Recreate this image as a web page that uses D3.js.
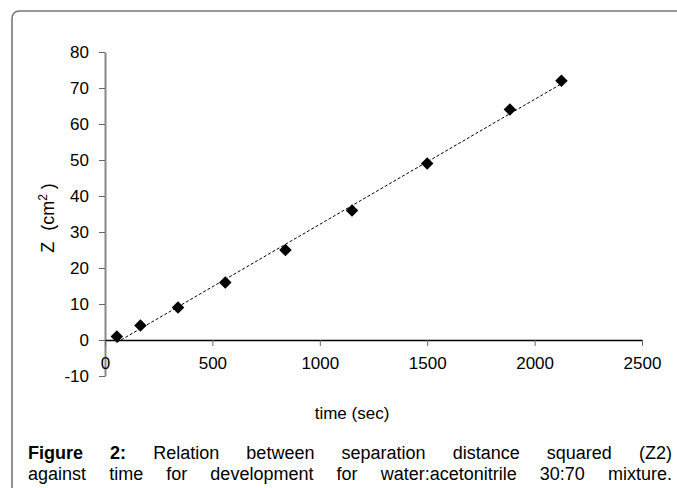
<!DOCTYPE html>
<html><head><meta charset="utf-8">
<script src="https://cdn.jsdelivr.net/npm/d3@7"></script>
<style>
html,body{margin:0;padding:0;background:#fff;}
svg{display:block;font-family:"Liberation Sans",Arial,sans-serif;}
</style></head>
<body>
<svg id="chart" width="677" height="488"></svg>
<script>
// Data
const timeSec = [55, 165, 340, 560, 840, 1150, 1500, 1885, 2125];
const zSquared = [1, 4, 9, 16, 25, 36, 49, 64, 72];
const xTicks = [0, 500, 1000, 1500, 2000, 2500];
const yTicks = [-10, 0, 10, 20, 30, 40, 50, 60, 70, 80];
const captionLine1 = [["Figure", true], ["2:", true], ["Relation", false], ["between", false], ["separation", false], ["distance", false], ["squared", false], ["(Z2)", false]];
const captionLine2 = [["against", false], ["time", false], ["for", false], ["development", false], ["for", false], ["water:acetonitrile", false], ["30:70", false], ["mixture.", false]];

const svg = d3.select("#chart");

// frame
svg.append("path")
  .attr("d", "M12,488 L12,19 Q12,11 20,11 L677,11")
  .attr("fill", "none").attr("stroke", "#777").attr("stroke-width", 1.6);

const x = d3.scaleLinear().domain([0, 2500]).range([105, 642]);
const y = d3.scaleLinear().domain([-10, 80]).range([376, 52]);
const fmt = d => String(d);

// y axis
const gy = svg.append("g").attr("transform", "translate(105,0)")
  .call(d3.axisLeft(y).tickValues(yTicks).tickSize(6).tickSizeOuter(0).tickPadding(10).tickFormat(fmt));
gy.select(".domain").attr("stroke", "#888").attr("stroke-width", 2);
gy.selectAll(".tick line").attr("stroke", "#666").attr("stroke-width", 1);
gy.selectAll(".tick text").attr("font-size", 17).attr("fill", "#000").attr("font-family", "Liberation Sans, Arial, sans-serif");

// x axis at y=0
const gx = svg.append("g").attr("transform", `translate(0,${y(0)})`)
  .call(d3.axisBottom(x).tickValues(xTicks).tickSize(6).tickSizeOuter(0).tickFormat(fmt));
gx.select(".domain").attr("stroke", "#000").attr("stroke-width", 1.5);
gx.selectAll(".tick line").attr("stroke", "#666").attr("stroke-width", 1);
gx.selectAll(".tick text").attr("font-size", 17).attr("fill", "#000").attr("y", 29).attr("dy", 0)
  .attr("font-family", "Liberation Sans, Arial, sans-serif");

// trendline (least squares)
const n = timeSec.length;
const mx = d3.mean(timeSec), my = d3.mean(zSquared);
let sxy = 0, sxx = 0;
for (let i = 0; i < n; i++) { sxy += (timeSec[i] - mx) * (zSquared[i] - my); sxx += (timeSec[i] - mx) ** 2; }
const slope = sxy / sxx, intercept = my - slope * mx;
const tMin = d3.min(timeSec), tMax = d3.max(timeSec);
svg.append("line")
  .attr("x1", x(tMin)).attr("y1", y(intercept + slope * tMin))
  .attr("x2", x(tMax)).attr("y2", y(intercept + slope * tMax))
  .attr("stroke", "#000").attr("stroke-width", 1).attr("stroke-dasharray", "3,2");

// markers
const diamond = d3.symbol().type(d3.symbolDiamond2).size(100);
svg.append("g").selectAll("path").data(timeSec).join("path")
  .attr("d", diamond)
  .attr("transform", (d, i) => `translate(${x(d)},${y(zSquared[i])})`)
  .attr("fill", "#000");

// axis titles
svg.append("text").attr("x", 352).attr("y", 419).attr("text-anchor", "middle")
  .attr("font-size", 17).text("time (sec)");
const yl = svg.append("text").attr("transform", "translate(54,218) rotate(-90)")
  .attr("text-anchor", "middle").attr("font-size", 18);
yl.append("tspan").text("Z");
yl.append("tspan").attr("dx", 11).text("(cm");
yl.append("tspan").attr("font-size", 12).attr("dy", -7).text("2");
yl.append("tspan").attr("dy", 7).attr("dx", 5).text(")");

// justified caption
function justify(words, baseline, left, right) {
  const g = svg.append("g");
  const nodes = words.map(([w, b]) => g.append("text").attr("y", baseline).attr("font-size", 18)
    .attr("font-weight", b ? "bold" : "normal").text(w));
  const widths = nodes.map(t => t.node().getComputedTextLength());
  const total = d3.sum(widths);
  const gap = (right - left - total) / (words.length - 1);
  let cx = left;
  nodes.forEach((t, i) => { t.attr("x", cx); cx += widths[i] + gap; });
}
justify(captionLine1, 459, 28, 672);
justify(captionLine2, 480, 28, 672);
</script>
</body></html>
